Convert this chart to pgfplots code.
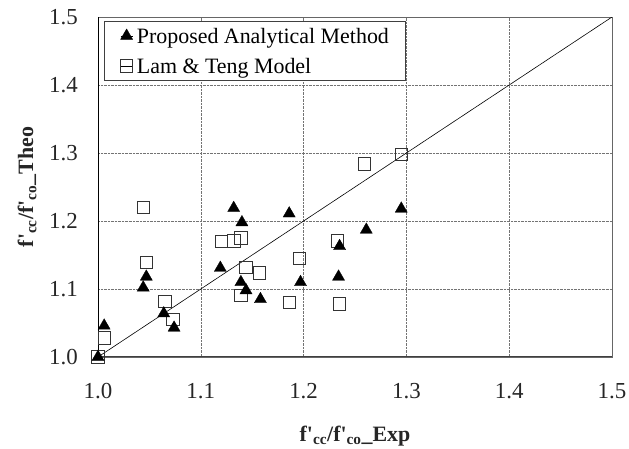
\documentclass[border=0pt]{standalone}
\usepackage{fontspec}
\setmainfont{Liberation Serif}
\usepackage{pgfplots}
\pgfplotsset{compat=1.18}
\pgfplotsset{
  mylegimg/.style={legend image code/.code={%
    \path (0bp,0bp) -- (12bp,0bp);
    \draw[##1] plot coordinates {(6bp,0bp)};}}
}
\begin{document}
\begin{tikzpicture}
\useasboundingbox (0,0) rectangle (629bp,449bp);
\begin{axis}[
  at={(98bp,92bp)}, anchor=south west,
  scale only axis, width=514bp, height=340bp,
  xmin=1, xmax=1.5, ymin=1, ymax=1.5,
  xtick={1,1.1,1.2,1.3,1.4,1.5},
  ytick={1,1.1,1.2,1.3,1.4,1.5},
  grid=major,
  major grid style={densely dotted, black!55, line width=0.5pt},
  major tick length=0pt,
  axis line style={black!60, line width=0.5pt},
  tick label style={font=\fontsize{23}{27}\selectfont, text=black!85},
  /pgf/number format/assume math mode=true,
  /pgf/number format/fixed,
  /pgf/number format/fixed zerofill,
  /pgf/number format/precision=1,
  yticklabel style={inner sep=0pt, anchor=east, xshift=-20bp},
  xticklabel style={inner sep=0pt, anchor=north, yshift=-26bp},
  xlabel={\textbf{f\textquotesingle\textsubscript{cc}/f\textquotesingle\textsubscript{co}\_Exp}},
  ylabel={\textbf{f\textquotesingle\textsubscript{cc}/f\textquotesingle\textsubscript{co}\_Theo}},
  label style={font=\fontsize{22}{26}\selectfont, text=black!85},
  xlabel style={at={(axis description cs:0.5,-0.232)}, anchor=center},
  ylabel style={at={(axis description cs:-0.138,0.5)}, anchor=center},
  legend style={at={(axis description cs:0.0117,0.988)}, anchor=north west,
    draw=black!75, line width=0.6pt, fill=white,
    font=\fontsize{22}{26}\selectfont,
    inner xsep=16bp, inner ysep=7bp, row sep=15bp, column sep=4bp,
    nodes={inner sep=0pt, text height=15bp, text depth=0bp}},
  legend cell align=left,
  reverse legend,
]
\draw[black, line width=0.8pt] (rel axis cs:0,0) -- (rel axis cs:0,1);
\draw[black!75, line width=1.6pt] (rel axis cs:0,0) -- (rel axis cs:1,0);
\addplot[black, line width=0.6pt, forget plot] coordinates {(1,1) (1.5,1.5)};
\addplot[only marks, mark=square, mark size=6.2bp, mark options={draw=black!80, line width=0.7pt}, mylegimg]
coordinates {
(1.000,1.000) (1.006,1.028) (1.044,1.220) (1.047,1.139) (1.065,1.082)
(1.073,1.055) (1.120,1.170) (1.132,1.171) (1.139,1.175) (1.139,1.091)
(1.144,1.132) (1.157,1.124) (1.186,1.080) (1.196,1.145) (1.233,1.171)
(1.235,1.078) (1.259,1.284) (1.295,1.298)
};
\addlegendentry{Lam \& Teng Model}
\addplot[only marks, mark=triangle*, mark size=7bp, mark options={draw=black, fill=black, line width=0.3pt}, mylegimg]
coordinates {
(1.000,1.000) (1.006,1.046) (1.044,1.102) (1.047,1.118) (1.064,1.064)
(1.074,1.043) (1.119,1.131) (1.132,1.219) (1.140,1.198) (1.139,1.110)
(1.144,1.098) (1.158,1.085) (1.186,1.211) (1.197,1.110) (1.234,1.118)
(1.235,1.163) (1.261,1.187) (1.295,1.218)
};
\addlegendentry{Proposed Analytical Method}
\end{axis}
\end{tikzpicture}
\end{document}
